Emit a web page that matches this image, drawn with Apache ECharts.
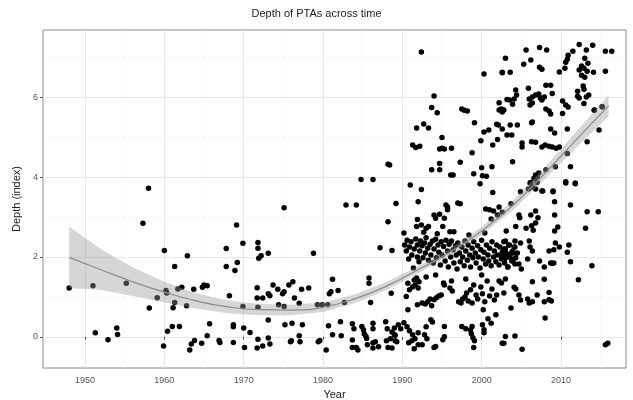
<!DOCTYPE html>
<html>
<head>
<meta charset="utf-8">
<script src="https://cdn.jsdelivr.net/npm/echarts@6/dist/echarts.min.js"></script>
<style>html,body{margin:0;padding:0;background:#fff;}#c{width:633px;height:400px;}</style>
</head>
<body>
<div id="c"></div>
<script>
// ---- data ----
var xTicks = [1950, 1960, 1970, 1980, 1990, 2000, 2010];
var xMinor = [1945, 1955, 1965, 1975, 1985, 1995, 2005, 2015];
var yTicks = [0, 2, 4, 6];
var yMinor = [1, 3, 5, 7];

var pointsEarly = [[1948.0,1.22],[1951.0,1.28],[1955.2,1.34],[1958.0,3.72],[1957.3,2.84],[1951.3,0.1],[1952.9,-0.07],[1954.0,0.22],[1954.1,0.06],[1960.0,2.16],[1962.9,2.03],[1961.3,1.76],[1959.1,0.98],[1960.2,1.16],[1960.3,1.1],[1958.1,0.72],[1961.1,0.73],[1961.3,0.86],[1961.7,1.2],[1962.2,1.24],[1962.8,0.78],[1963.7,1.19],[1964.8,1.24],[1965.0,1.3],[1965.4,1.28],[1961.0,0.26],[1961.9,0.26],[1960.4,0.14],[1959.9,-0.23],[1963.2,-0.33],[1963.4,-0.18],[1963.8,-0.09],[1964.7,-0.16],[1965.4,0.03],[1965.7,0.33],[1966.9,-0.09],[1967.0,-0.14],[1967.8,2.21],[1967.8,1.76],[1969.1,2.8],[1969.2,1.86],[1968.9,1.66],[1968.2,1.03],[1968.7,0.3],[1968.7,0.25],[1968.7,-0.14]];

var pointsSeventies = [[1969.9,2.34],[1975.1,3.23],[1971.8,2.36],[1971.8,2.22],[1971.9,1.97],[1972.2,2.03],[1973.1,2.09],[1978.8,2.09],[1982.9,3.3],[1984.2,3.3],[1984.8,3.94],[1986.3,3.94],[1989.2,3.34],[1988.2,2.88],[1987.2,2.23],[1988.7,2.16],[1988.2,4.32],[1971.7,1.23],[1971.7,0.97],[1972.4,0.97],[1973.1,1.08],[1973.3,1.03],[1973.7,1.3],[1974.3,1.19],[1974.9,1.08],[1975.1,1.13],[1975.7,1.3],[1976.2,1.38],[1976.4,0.97],[1977.0,0.84],[1977.3,1.19],[1978.2,1.22],[1981.2,1.44],[1980.8,1.08],[1981.0,1.13],[1981.9,1.16],[1969.9,0.76],[1971.8,0.74],[1974.4,0.8],[1975.1,0.76],[1979.3,0.8],[1979.9,0.8],[1980.6,0.8],[1982.7,0.86],[1985.8,1.47],[1985.8,1.34],[1986.0,0.86],[1988.6,1.09],[1970.0,0.22],[1970.8,0.11],[1973.1,0.42],[1975.2,0.3],[1976.1,0.34],[1977.4,0.3],[1970.1,-0.27],[1971.7,-0.28],[1971.8,-0.06],[1972.4,-0.23],[1973.1,-0.03],[1973.3,-0.18],[1975.9,-0.12],[1976.0,-0.1],[1977.0,0.03],[1977.1,-0.12],[1979.4,-0.12],[1979.6,-0.09],[1980.4,-0.33],[1980.7,0.28],[1981.2,0.05],[1982.2,0.38],[1982.3,0.03],[1983.7,0.33],[1983.9,0.2],[1983.7,-0.08],[1983.7,-0.27],[1984.4,-0.33],[1984.2,-0.27],[1984.9,0.26],[1985.1,0.18],[1985.2,0.08],[1985.4,0.02],[1985.5,-0.04],[1985.6,-0.2],[1986.3,0.34],[1986.3,0.2],[1986.3,-0.15],[1986.3,-0.28],[1986.6,-0.12],[1987.0,-0.25],[1987.9,0.38],[1988.1,0.2],[1988.0,-0.1],[1988.2,-0.27],[1988.7,-0.28],[1989.0,0.22],[1989.1,0.04],[1989.1,-0.1]];

var pointsNineties = [[1992.4,7.13],[2003.0,6.97],[2000.3,6.58],[2002.6,6.61],[1994.0,6.03],[1993.7,5.74],[1994.4,5.61],[1997.5,5.7],[1997.8,5.67],[1998.2,5.65],[2002.2,5.86],[2003.2,5.94],[2002.2,5.68],[2002.5,5.7],[2002.8,5.68],[1999.1,5.36],[1991.8,5.23],[1992.7,5.33],[1993.3,5.23],[2000.3,5.13],[2000.9,5.18],[2001.9,5.32],[1995.0,4.99],[1999.9,4.91],[2002.0,4.94],[1991.3,4.8],[1991.7,4.74],[1992.2,4.77],[1994.7,4.7],[1995.0,4.72],[1995.3,4.7],[1996.2,4.72],[2001.4,4.8],[1998.8,4.61],[1994.7,4.34],[1993.7,4.18],[1994.7,4.18],[1997.3,4.37],[1996.1,4.05],[1996.4,4.05],[1999.0,4.08],[2000.0,4.23],[2001.3,4.26],[2000.1,4.03],[2000.6,4.02],[1999.8,3.83],[1991.0,3.8],[1992.4,3.69],[2001.4,3.61],[1988.4,4.3],
[1992.0,3.38],[1995.5,3.3],[1991.9,2.94],[1991.8,2.76],[1992.4,2.8],[1993.0,2.72],[1993.3,2.76],[1994.0,3.05],[1994.2,2.97],[1994.7,3.07],[1995.3,2.97],[1995.1,2.76],[1997.0,3.35],[1997.3,3.33],[1995.7,3.25],[1995.7,3.18],[2000.5,3.2],[2001.0,3.18],[2001.5,3.15],[2002.2,3.25],[2001.2,2.95],[2002.0,3.05],[2002.6,3.12],[1996.0,2.63],[1996.5,2.63]];

var pointsCluster = [[1990.3,2.3],[1990.5,2.15],[1990.6,2.42],[1990.8,1.95],[1990.9,2.25],[1991.1,2.38],[1991.2,2.05],[1991.4,1.72],[1991.5,2.2],[1991.7,2.45],[1991.9,2.0],[1991.9,2.3],[1992.1,1.88],[1992.2,2.15],[1992.3,2.4],[1992.5,2.28],[1992.6,1.98],[1992.8,2.35],[1992.9,2.1],[1993.0,2.48],[1993.2,2.22],[1993.3,1.92],[1993.5,2.32],[1993.6,2.05],[1993.8,2.4],[1993.9,1.85],[1994.0,2.2],[1994.2,2.44],[1994.3,1.98],[1994.5,2.3],[1994.6,2.12],[1994.8,1.8],[1994.9,2.38],[1995.0,2.05],[1995.2,2.26],[1995.4,1.9],[1995.5,2.42],[1995.7,2.15],[1995.8,1.75],[1995.9,2.32],[1996.1,2.0],[1996.2,2.4],[1996.4,2.18],[1996.5,1.85],[1996.7,2.28],[1996.8,2.05],[1996.9,1.7],[1997.0,2.35],[1997.2,2.1],[1997.3,1.88],[1997.5,2.25],[1997.6,2.0],[1997.8,1.78],[1997.9,2.4],[1998.0,2.15],[1998.2,1.92],[1998.3,2.3],[1998.5,2.05],[1998.6,1.75],[1998.8,2.22],[1998.9,1.98],[1999.0,2.38],[1999.2,2.1],[1999.3,1.85],[1999.5,2.28],[1999.6,2.0],[1999.8,1.72],[1999.9,2.18],[2000.0,2.42],[2000.2,1.95],[2000.3,2.12],[2000.5,1.82],[2000.6,2.3],[2000.8,2.05],[2000.9,1.9],[2001.0,2.22],[2001.2,1.78],[2001.3,2.38],[2001.5,2.0],[2001.6,2.15],[2001.8,1.88],[2001.9,2.3],[2002.0,2.05],[2002.2,1.8],[2002.3,2.25],[2002.5,1.95],[2002.6,2.12],[2002.8,2.38],[2002.9,1.85],[2003.0,2.2],[2003.2,2.0],[2003.3,1.75],[2003.5,2.3],[2003.6,2.08],[2003.8,1.9],[2003.9,2.15],[2004.1,2.25],[2004.3,1.98],[2004.5,2.1],[2004.7,1.82],[2004.9,2.35],[1990.2,2.6],[1992.7,2.62],[1994.4,2.58],[1998.4,2.55],[2000.4,2.6],[2003.1,2.65]];

var pointsNinetiesLow = [[1990.7,1.34],[1990.9,1.18],[1991.3,1.25],[1991.5,1.42],[1991.6,1.3],[1991.8,1.47],[1992.0,1.22],[1992.1,1.38],[1990.5,1.01],[1991.9,0.8],[1992.5,0.85],[1992.9,0.82],[1993.2,0.88],[1993.5,0.95],[1993.7,0.78],[1994.0,0.93],[1994.3,0.98],[1994.6,1.02],[1994.9,1.05],[1995.2,1.35],[1995.3,1.3],[1996.2,1.4],[1996.0,1.22],[1996.3,1.15],[1997.1,0.88],[1997.4,0.85],[1997.6,0.95],[1997.9,1.0],[1998.1,1.1],[1998.3,0.9],[1998.6,1.18],[1998.8,0.85],[1999.0,1.3],[1999.3,1.05],[1999.5,0.95],[1999.9,1.25],[2000.1,1.08],[2000.4,0.88],[2000.7,1.4],[2001.0,1.02],[2001.3,1.2],[2001.6,0.92],[2001.9,1.05],[2002.2,1.4],[2002.5,1.35],[2002.8,1.1],[1993.0,1.5],[1994.2,1.55],[1998.0,1.45],[2000.0,1.55],[2003.0,1.45],
[1990.7,0.68],[1993.6,0.43],[1993.8,0.37],[1995.3,0.26],[1989.5,0.3],[1989.8,0.2],[1990.2,0.35],[1990.6,0.25],[1990.9,0.15],[1991.3,0.05],[1991.2,-0.1],[1991.6,-0.05],[1992.0,0.1],[1992.0,-0.2],[1993.0,0.25],[1992.8,0.05],[1993.1,-0.05],[1994.2,-0.24],[1988.5,-0.05],[1988.7,0.12],[1989.0,0.05],[1989.3,-0.12],[1995.3,0.0],[2000.2,0.68],[2001.2,0.34],[2000.1,0.3],[1997.5,0.26],[1998.0,0.2],[1998.6,0.17],[1998.7,0.08],[1998.9,-0.02],[1999.1,-0.1],[1999.0,-0.27],[2002.8,-0.16],[2000.3,0.1],[2000.3,0.18],[1995.1,-0.07],[1994.0,-0.27],[1992.5,-0.2],[1990.8,-0.15],[1991.5,-0.3],[2001.8,0.55],[2000.8,0.45],[1998.8,0.26]];

var pointsLate = [[2005.6,7.18],[2007.3,7.24],[2008.2,7.18],[2012.3,7.32],[2014.0,7.3],[2013.2,7.18],[2011.5,7.15],[2010.9,7.05],[2010.8,6.95],[2015.6,7.15],[2016.4,7.15],[2006.2,6.93],[2005.3,6.82],[2007.3,6.75],[2007.6,6.7],[2013.0,6.97],[2010.6,6.87],[2010.5,6.72],[2012.3,6.68],[2012.6,6.78],[2012.9,6.72],[2013.4,6.85],[2012.6,6.55],[2013.3,6.65],[2014.1,6.62],[2015.6,6.65],[2009.8,6.63],[2002.6,6.62],[2003.6,6.62],[2013.0,6.5],[2008.1,6.3],[2008.7,6.3],[2004.3,6.18],[2004.4,6.05],[2004.1,5.95],[2003.9,5.82],[2003.5,5.93],[2002.6,5.63],[2005.9,6.22],[2006.0,5.95],[2006.4,6.0],[2006.8,6.05],[2007.2,6.08],[2007.4,5.98],[2007.6,5.93],[2007.9,6.0],[2006.4,5.85],[2006.1,5.8],[2008.9,6.09],[2010.2,5.9],[2010.6,5.8],[2010.9,5.75],[2012.1,6.15],[2012.1,6.02],[2012.3,5.98],[2012.8,6.28],[2012.9,6.2],[2013.2,6.0],[2013.5,6.05],[2012.9,5.84],[2008.1,5.7],[2008.5,5.65],[2008.7,5.58],[2010.2,5.59],[2014.2,5.67],[2015.2,5.76],[2002.1,5.3],[2002.6,5.2],[2003.2,5.05],[2003.8,5.05],[2006.4,5.38],[2003.6,5.3],[2004.5,5.3],[2006.3,5.36],[2008.7,5.2],[2009.2,5.1],[2010.8,5.2],[2005.1,4.85],[2005.1,4.75],[2006.3,4.88],[2006.8,4.87],[2007.6,4.75],[2008.0,4.8],[2008.5,4.77],[2008.9,4.75],[2009.4,4.72],[2009.8,4.75],[2010.8,4.59],[2003.9,4.38],[2006.8,4.05],[2007.0,4.0],[2007.2,4.1],[2006.6,3.97],[2008.1,4.18],[2009.3,4.26],[2011.2,4.26],[2006.1,3.85],[2005.9,3.7],[2006.4,3.75],[2006.8,3.7],[2007.6,3.65],[2009.0,3.65],[2010.6,3.88],[2011.8,3.83],[2004.9,3.63],[2013.3,4.88],[2014.8,5.18],[2015.2,5.76],[2014.2,5.68]];

var pointsLateLow = [[2006.2,3.86],[2007.0,3.86],[2010.6,3.85],[2011.8,3.85],[2007.7,3.65],[2009.0,3.63],[2009.2,3.38],[2011.2,3.3],[2013.3,3.13],[2014.7,3.13],[2003.7,3.33],[2004.7,3.05],[2004.8,2.98],[2006.2,3.05],[2006.8,3.15],[2007.1,2.98],[2006.8,2.85],[2006.3,2.78],[2006.5,2.67],[2005.6,2.72],[2009.2,3.05],[2009.2,2.65],[2009.6,2.75],[2013.1,2.72],[2004.3,2.76],[2003.0,2.4],[2003.4,2.3],[2004.2,2.4],[2004.2,2.25],[2002.8,2.2],[2002.6,2.05],[2003.0,2.1],[2003.5,2.0],[2003.9,2.1],[2004.0,1.95],[2004.2,1.82],[2002.9,1.95],[2003.3,1.75],[2005.0,1.7],[2006.0,2.4],[2006.1,2.25],[2006.4,2.15],[2005.8,1.95],[2007.3,1.9],[2007.9,1.75],[2008.5,2.15],[2009.1,2.18],[2009.3,2.35],[2009.8,2.25],[2010.8,2.12],[2011.0,2.3],[2008.9,1.84],[2008.7,1.85],[2009.1,1.85],[2011.2,1.88],[2013.9,1.78],[2012.2,1.43],[2007.9,1.44],[2006.4,1.38],[2004.1,1.24],[2004.3,1.2],[2004.7,1.05],[2004.9,0.92],[2005.8,0.95],[2006.0,0.85],[2006.4,0.88],[2007.0,1.05],[2007.9,0.88],[2008.5,0.93],[2008.8,0.9],[2008.5,1.11],[2003.7,0.72],[2008.0,0.47],[2003.0,0.01],[2004.2,0.02],[2002.6,-0.16],[2005.1,-0.31],[2015.6,-0.2],[2015.9,-0.16]];

var fitYears = [1948, 1952, 1956, 1960, 1964, 1968, 1972, 1976, 1980, 1984, 1988, 1992, 1996, 2000, 2004, 2008, 2012, 2016];
var fitMean  = [1.99, 1.68, 1.38, 1.12, 0.90, 0.75, 0.68, 0.67, 0.74, 0.95, 1.27, 1.68, 2.12, 2.65, 3.30, 4.10, 4.95, 5.78];
var fitLow   = [1.22, 1.17, 1.02, 0.86, 0.71, 0.59, 0.54, 0.54, 0.62, 0.84, 1.17, 1.59, 2.03, 2.55, 3.18, 3.95, 4.75, 5.52];
var fitHigh  = [2.76, 2.19, 1.74, 1.38, 1.09, 0.91, 0.82, 0.80, 0.86, 1.06, 1.37, 1.77, 2.21, 2.75, 3.42, 4.25, 5.15, 6.04];

// ---- build ----
var allPoints = [].concat(pointsEarly, pointsSeventies, pointsNineties, pointsCluster, pointsNinetiesLow, pointsLate, pointsLateLow);
var fitLine = fitYears.map(function (y, i) { return [y, fitMean[i]]; });

var gridLines = [];
xMinor.forEach(function (v) { gridLines.push({ xAxis: v, lineStyle: { color: '#f3f3f3', width: 0.6, type: 'solid' } }); });
yMinor.forEach(function (v) { gridLines.push({ yAxis: v, lineStyle: { color: '#f3f3f3', width: 0.6, type: 'solid' } }); });
xTicks.forEach(function (v) { gridLines.push({ xAxis: v, lineStyle: { color: '#e8e8e8', width: 1, type: 'solid' } }); });
yTicks.forEach(function (v) { gridLines.push({ yAxis: v, lineStyle: { color: '#e8e8e8', width: 1, type: 'solid' } }); });

var font = 'Liberation Sans, Arial, sans-serif';
var chart = echarts.init(document.getElementById('c'), null, { renderer: 'canvas' });
chart.setOption({
  animation: false,
  backgroundColor: '#ffffff',
  title: {
    text: 'Depth of PTAs across time', left: 'center', top: 3,
    textStyle: { fontSize: 11, fontWeight: 'normal', color: '#222', fontFamily: font }
  },
  grid: { left: 43, right: 7, top: 30, bottom: 32, outerBoundsMode: 'none', containLabel: false,
    show: true, borderColor: '#8a8a8a', borderWidth: 1, backgroundColor: '#fff' },
  xAxis: {
    type: 'value', min: 1944.7, max: 2018.2,
    splitLine: { show: false },
    axisLine: { show: false },
    axisTick: { show: true, customValues: xTicks, length: 3, lineStyle: { color: '#555' } },
    axisLabel: { customValues: xTicks, color: '#555', fontSize: 9, fontFamily: font, margin: 8,
      formatter: function (v) { return String(Math.round(v)); } },
    name: 'Year', nameLocation: 'middle', nameGap: 18,
    nameTextStyle: { fontSize: 11, color: '#222', fontFamily: font }
  },
  yAxis: {
    type: 'value', min: -0.78, max: 7.68,
    splitLine: { show: false },
    axisLine: { show: false },
    axisTick: { show: true, customValues: yTicks, length: 3, lineStyle: { color: '#555' } },
    axisLabel: { customValues: yTicks, color: '#555', fontSize: 9, fontFamily: font, margin: 5,
      formatter: function (v) { return String(Math.round(v)); } },
    name: 'Depth (index)', nameLocation: 'middle', nameGap: 19, nameRotate: 90,
    nameTextStyle: { fontSize: 11, color: '#222', fontFamily: font }
  },
  series: [
    {
      type: 'scatter', data: [], z: 1, silent: true,
      markLine: { silent: true, z: 0, symbol: 'none', label: { show: false }, animation: false, data: gridLines }
    },
    {
      type: 'scatter', data: allPoints, symbolSize: 5.5, z: 2,
      itemStyle: { color: '#000', opacity: 1 }
    },
    {
      type: 'custom', data: [0], z: 3, silent: true,
      renderItem: function (params, api) {
        var pts = [];
        for (var i = 0; i < fitYears.length; i++) pts.push(api.coord([fitYears[i], fitHigh[i]]));
        for (var j = fitYears.length - 1; j >= 0; j--) pts.push(api.coord([fitYears[j], fitLow[j]]));
        return {
          type: 'polygon',
          shape: { points: pts },
          style: { fill: 'rgba(153,153,153,0.4)', stroke: null }
        };
      }
    },
    {
      type: 'line', data: fitLine, symbol: 'none', z: 4, smooth: true,
      lineStyle: { color: '#8c8c8c', width: 1.2 }
    }
  ]
});
</script>
</body>
</html>
